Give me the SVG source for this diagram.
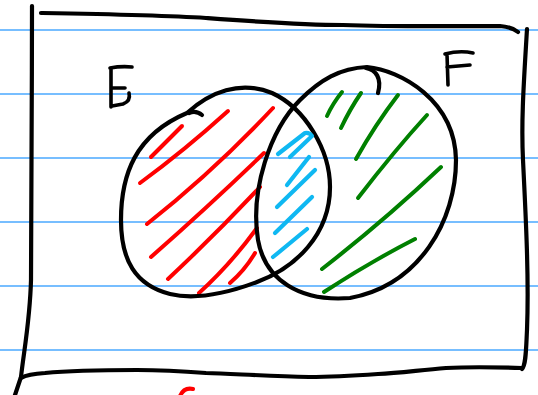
<svg xmlns="http://www.w3.org/2000/svg" width="538" height="395" viewBox="0 0 538 395">
<style>
.rule{stroke:#4aa8ff;stroke-width:1.5;fill:none}
.ink{stroke:#000;stroke-width:4.2;fill:none;stroke-linecap:round;stroke-linejoin:round}
.txt{stroke:#000;stroke-width:3.6;fill:none;stroke-linecap:round;stroke-linejoin:round}
.red{stroke:#ff0000;stroke-width:4;fill:none;stroke-linecap:round}
.grn{stroke:#008000;stroke-width:4;fill:none;stroke-linecap:round}
.blu{stroke:#0fb8f2;stroke-width:4.2;fill:none;stroke-linecap:round;stroke-linejoin:round}
</style>
<rect width="538" height="395" fill="#fff"/>
<g id="paper">
<line class="rule" x1="0" y1="30" x2="538" y2="30"/>
<line class="rule" x1="0" y1="94" x2="538" y2="94"/>
<line class="rule" x1="0" y1="158" x2="538" y2="158"/>
<line class="rule" x1="0" y1="222" x2="538" y2="222"/>
<line class="rule" x1="0" y1="286" x2="538" y2="286"/>
<line class="rule" x1="0" y1="350" x2="538" y2="350"/>
</g>
<g id="frame">
<path class="ink" stroke-width="4.5" d="M41,13 C100,14 160,15 206,18 C260,22 300,25 343,25 C400,27 460,26 500,26 Q512,27 518,32"/>
<path class="ink" stroke-width="4.5" d="M32,6 C32,100 31,200 31,280 C30,320 24,350 21,377 L15,395"/>
<path class="ink" stroke-width="4.5" d="M527,29 C524,80 521,120 523,160 C526,220 529,280 527,330 C526,350 526,365 522,369"/>
<path class="ink" stroke-width="4.5" d="M522,368 C490,367 465,367 446,368 C420,370 400,373 378,374 C350,376 330,377 309,377 C270,376 235,374 206,373 C180,371 160,370 137,370 C100,370 65,371 45,373 Q28,374 21,378"/>
</g>
<g id="setE">
<g class="hatch">
<path class="red" d="M182,126 L151,157"/>
<path class="red" d="M228,111 Q185,150 140,183"/>
<path class="red" d="M273,108 Q215,170 147,224"/>
<path class="red" d="M264,153 Q210,205 151,257"/>
<path class="red" d="M260,187 Q215,235 168,279"/>
<path class="red" d="M257,228 Q230,265 199,293"/>
<path class="red" d="M255,253 Q245,270 230,283"/>
</g>
<path class="ink" d="M187,113 C210,92 240,80 272,93 C305,108 330,150 330,187 C330,235 295,268 257,282 C225,294 195,300 170,294 C135,285 121,260 121,220 C121,175 135,135 187,113 Z"/>
<path class="ink" stroke-width="3" d="M189,113 Q196,110 202,115"/>
<g id="labelE">
<path class="txt" d="M110,68 Q121,66 132,67 M111,68 L111,107 M112,88 L125,88 M112,106 L123,104 Q131,101 129,93"/>
</g>
</g>
<g id="setF">
<g class="hatch">
<path class="grn" d="M327,116 Q333,103 342,92"/>
<path class="grn" d="M341,128 Q350,109 361,93"/>
<path class="grn" d="M356,159 Q375,125 398,95"/>
<path class="grn" d="M358,198 Q395,150 427,115"/>
<path class="grn" d="M322,269 Q385,220 441,167"/>
<path class="grn" d="M324,292 Q370,262 415,239"/>
</g>
<path class="ink" d="M367,67 C400,70 455,100 456,160 C456,220 420,285 350,298 C300,302 265,280 258,240 C250,190 270,130 300,100 C320,80 340,68 367,67 Z"/>
<path class="ink" d="M366,68 C376,70 382,78 378,93"/>
<g id="labelF">
<path class="txt" d="M445,54 Q460,50 473,53 M447,54 L448,85 M447,67 L470,65"/>
</g>
</g>
<g id="intersection">
<path class="blu" d="M278,154 L305,133 Q309,132 312,136 L290,157"/>
<path class="blu" d="M287,185 L309,157"/>
<path class="blu" d="M277,207 L315,170"/>
<path class="blu" d="M275,233 L312,197"/>
<path class="blu" d="M273,257 L307,229"/>
</g>
<path class="red" d="M180,396 Q184,387 193,389"/>
</svg>
